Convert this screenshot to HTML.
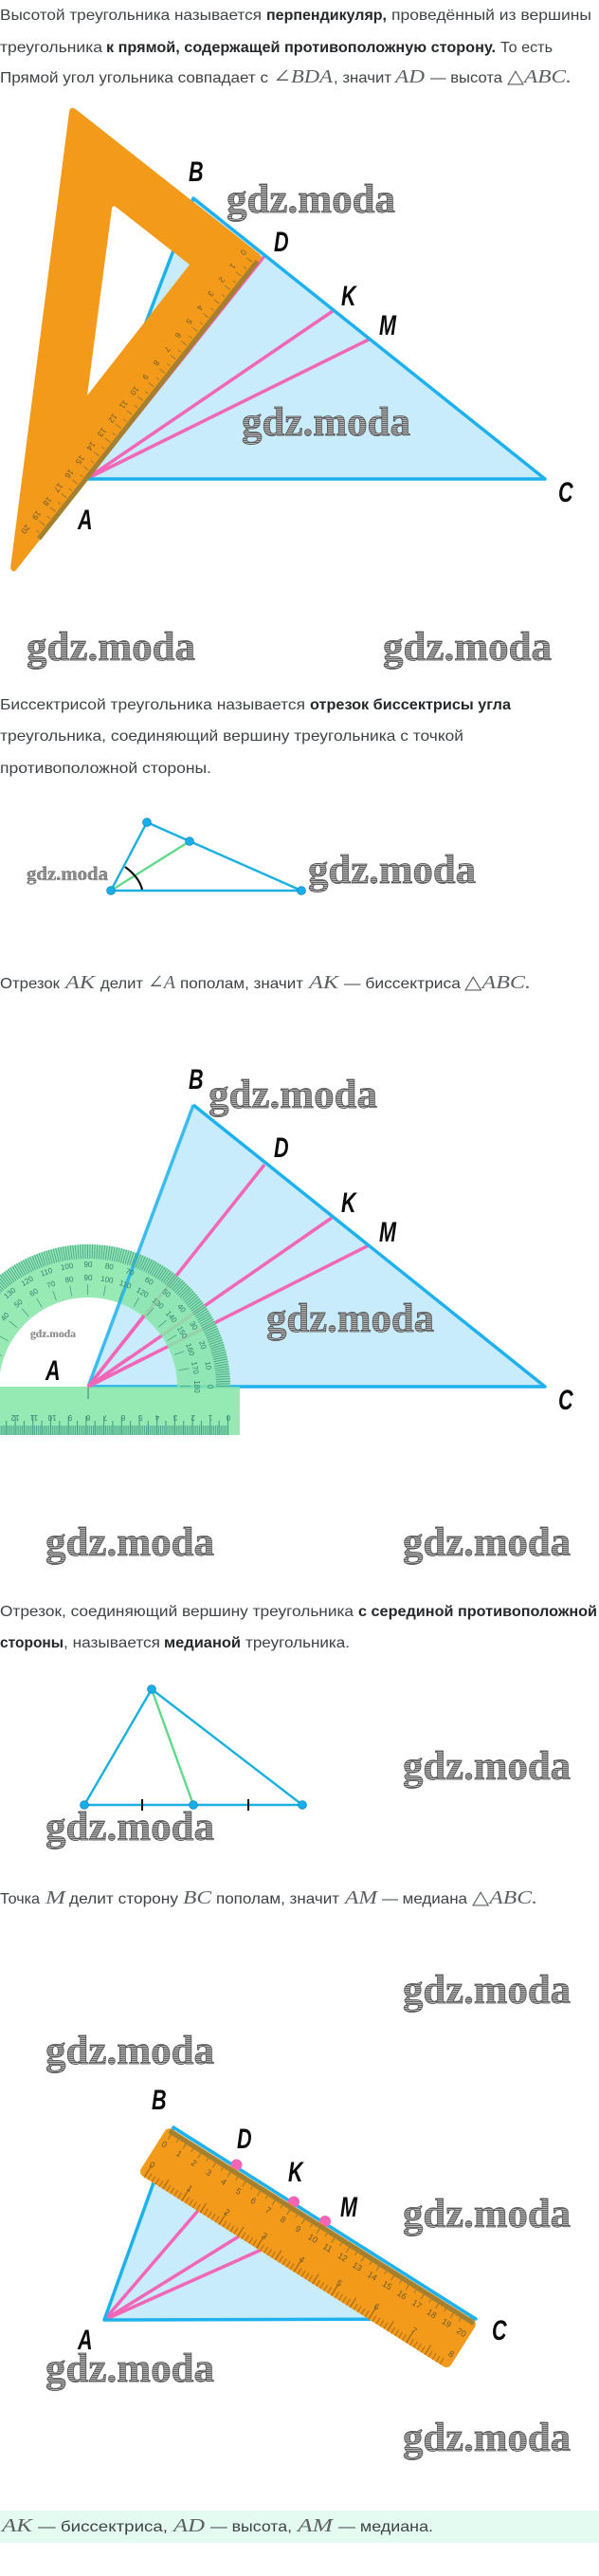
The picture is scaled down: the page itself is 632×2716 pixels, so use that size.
<!DOCTYPE html>
<html><head><meta charset="utf-8"><style>
html,body{margin:0;padding:0;background:#fff;width:632px;height:2716px;overflow:hidden}
svg{display:block}
.t{font:16px "Liberation Sans",sans-serif;fill:#3e4346}
.b{font:bold 16px "Liberation Sans",sans-serif;fill:#25282b}
.m{font:italic 20px "Liberation Serif","DejaVu Serif",serif;fill:#5c6063}
.w{font:bold 43px "Liberation Serif",serif;fill:url(#h);stroke:#4a4a4a;stroke-width:.7}
.l{font:italic bold 30px "Liberation Sans",sans-serif;fill:#0a0a0a}
</style></head><body>
<svg xmlns="http://www.w3.org/2000/svg" width="632" height="2716" viewBox="0 0 632 2716">
<defs><pattern id="h" width="4" height="2" patternUnits="userSpaceOnUse"><rect width="4" height="2" fill="#b4b4b4"/><rect width="4" height="1" fill="#666"/></pattern></defs>
<!-- SECTION 1 text -->
<text class="t" x="0" y="21" textLength="276" lengthAdjust="spacingAndGlyphs">Высотой треугольника называется</text>
<text class="b" x="281" y="21" textLength="127" lengthAdjust="spacingAndGlyphs">перпендикуляр,</text>
<text class="t" x="413" y="21" textLength="211" lengthAdjust="spacingAndGlyphs">проведённый из вершины</text>
<text class="t" x="0" y="55" textLength="108" lengthAdjust="spacingAndGlyphs">треугольника</text>
<text class="b" x="112" y="55" textLength="411" lengthAdjust="spacingAndGlyphs">к прямой, содержащей противоположную сторону.</text>
<text class="t" x="528" y="55" textLength="55" lengthAdjust="spacingAndGlyphs">То есть</text>
<text class="t" x="0" y="87" textLength="283" lengthAdjust="spacingAndGlyphs">Прямой угол угольника совпадает с</text>
<text class="m" x="288" y="87" textLength="63" lengthAdjust="spacingAndGlyphs">∠BDA</text>
<text class="t" x="352" y="87" textLength="61" lengthAdjust="spacingAndGlyphs">, значит</text>
<text class="m" x="417" y="87" textLength="31" lengthAdjust="spacingAndGlyphs">AD</text>
<text class="t" x="454" y="87" textLength="76" lengthAdjust="spacingAndGlyphs">— высота</text>
<text class="m" x="535" y="87" textLength="68" lengthAdjust="spacingAndGlyphs">△ABC.</text>

<!-- SECTION 1 figure -->
<path d="M91 505L204 209L575 505Z" fill="#c9ecfd"/>
<path d="M91 505L279 270M91 505L351 328M91 505L389 358" stroke="#f266b8" stroke-width="3.5" fill="none"/>
<path d="M91 505L204 209L575 505Z" fill="none" stroke="#1fb1ee" stroke-width="3.5" stroke-linejoin="round"/>
<path d="M73 118Q74 111 81 116L274 268L276 272L17 601Q14 605 11 599ZM118 220Q119 216 122 218L200 279L92 417Z" fill="#f39a1b" fill-rule="evenodd"/>
<path d="M271.5 275.5L41 568" stroke="#a5802f" stroke-width="5"/>
<path d="M263.3 273.7L33.3 565.7" stroke="#9c7a2a" stroke-width="7" stroke-dasharray=".9 17.7"/>
<path d="M264.5 274.7L34.5 566.7" stroke="#9c7a2a" stroke-width="4" stroke-dasharray=".9 8.4"/>
<g transform="translate(-2.3 -3.8)" fill="#6b5a2a" style="font:8.5px 'Liberation Sans',sans-serif" text-anchor="middle">
<text transform="translate(257 268) rotate(128)">0</text><text transform="translate(245.5 282.6) rotate(128)">1</text><text transform="translate(234 297.2) rotate(128)">2</text><text transform="translate(222.5 311.8) rotate(128)">3</text><text transform="translate(211 326.4) rotate(128)">4</text><text transform="translate(199.5 341) rotate(128)">5</text><text transform="translate(188 355.6) rotate(128)">6</text><text transform="translate(176.5 370.2) rotate(128)">7</text><text transform="translate(165 384.8) rotate(128)">8</text><text transform="translate(153.5 399.4) rotate(128)">9</text><text transform="translate(142 414) rotate(128)">10</text><text transform="translate(130.5 428.6) rotate(128)">11</text><text transform="translate(119 443.2) rotate(128)">12</text><text transform="translate(107.5 457.8) rotate(128)">13</text><text transform="translate(96 472.4) rotate(128)">14</text><text transform="translate(84.5 487) rotate(128)">15</text><text transform="translate(73 501.6) rotate(128)">16</text><text transform="translate(61.5 516.2) rotate(128)">17</text><text transform="translate(50 530.8) rotate(128)">18</text><text transform="translate(38.5 545.4) rotate(128)">19</text><text transform="translate(27 560) rotate(128)">20</text>
</g>
<text class="l" transform="translate(199 191) scale(.72 1)">B</text>
<text class="l" transform="translate(289 265) scale(.72 1)">D</text>
<text class="l" transform="translate(360 322) scale(.72 1)">K</text>
<text class="l" transform="translate(400 353) scale(.72 1)">M</text>
<text class="l" transform="translate(82 558) scale(.72 1)">A</text>
<text class="l" transform="translate(589 529) scale(.72 1)">C</text>
<text class="w" x="239" y="224" textLength="178" lengthAdjust="spacingAndGlyphs">gdz.moda</text>
<text class="w" x="255" y="459" textLength="178" lengthAdjust="spacingAndGlyphs">gdz.moda</text>
<text class="w" x="28" y="696" textLength="178" lengthAdjust="spacingAndGlyphs">gdz.moda</text>
<text class="w" x="404" y="696" textLength="178" lengthAdjust="spacingAndGlyphs">gdz.moda</text>

<!-- SECTION 2 -->
<text class="t" x="0" y="748" textLength="322" lengthAdjust="spacingAndGlyphs">Биссектрисой треугольника называется</text>
<text class="b" x="327" y="748" textLength="212" lengthAdjust="spacingAndGlyphs">отрезок биссектрисы угла</text>
<text class="t" x="0" y="781" textLength="489" lengthAdjust="spacingAndGlyphs">треугольника, соединяющий вершину треугольника с точкой</text>
<text class="t" x="0" y="815" textLength="223" lengthAdjust="spacingAndGlyphs">противоположной стороны.</text>
<path d="M117 939L155 867L318 939Z" fill="none" stroke="#1ab0e0" stroke-width="2.4" stroke-linejoin="round"/>
<path d="M117 939L200 887" stroke="#5fd98a" stroke-width="2.4"/>
<path d="M132 914Q147 925 150 938" fill="none" stroke="#111" stroke-width="2.2"/>
<g fill="#19aeea" stroke="#1488c0" stroke-width=".8"><circle cx="117" cy="939" r="4.4"/><circle cx="155" cy="867" r="4.4"/><circle cx="200" cy="887" r="4.4"/><circle cx="318" cy="939" r="4.4"/></g>
<text class="w" style="font-size:21px;stroke-width:.3" x="28" y="928" textLength="86" lengthAdjust="spacingAndGlyphs">gdz.moda</text>
<text class="w" x="325" y="931" textLength="177" lengthAdjust="spacingAndGlyphs">gdz.moda</text>
<text class="t" x="0" y="1042" textLength="63" lengthAdjust="spacingAndGlyphs">Отрезок</text>
<text class="m" x="69" y="1042" textLength="31" lengthAdjust="spacingAndGlyphs">AK</text>
<text class="t" x="106" y="1042" textLength="45" lengthAdjust="spacingAndGlyphs">делит</text>
<text class="m" x="156" y="1042" textLength="29" lengthAdjust="spacingAndGlyphs">∠A</text>
<text class="t" x="190" y="1042" textLength="130" lengthAdjust="spacingAndGlyphs">пополам, значит</text>
<text class="m" x="326" y="1042" textLength="31" lengthAdjust="spacingAndGlyphs">AK</text>
<text class="t" x="363" y="1042" textLength="123" lengthAdjust="spacingAndGlyphs">— биссектриса</text>
<text class="m" x="490" y="1042" textLength="70" lengthAdjust="spacingAndGlyphs">△ABC.</text>

<!-- SECTION 3 figure -->
<path d="M93 1462L204 1165L575 1462Z" fill="#c9ecfd"/>
<path d="M93 1462L279 1228M93 1462L350 1284M93 1462L389 1313" stroke="#f266b8" stroke-width="3.5" fill="none"/>
<path d="M204 1165L575 1462L93 1462" fill="none" stroke="#1fb1ee" stroke-width="3.5" stroke-linejoin="round"/>
<path d="M-57 1462A150 150 0 0 1 243 1462L187 1462A94 94 0 0 0 -1 1462Z" fill="#86e6a8" fill-opacity=".85"/>
<rect x="-5" y="1462" width="258" height="51" fill="#86e6a8" fill-opacity=".88"/>
<path d="M93 1462L204 1165" stroke="#1fb1ee" stroke-width="3.5" stroke-opacity=".85"/>
<path d="M93 1462L152 1387M93 1462L137 1431M93 1462L152 1432" stroke="#f266b8" stroke-width="3.5" fill="none" stroke-linecap="butt"/>
<path d="M235.5 1462A142.5 142.5 0 0 0 -49.5 1462" fill="none" stroke="#4aa78d" stroke-width="15" stroke-dasharray="1 1.487"/>
<path d="M195.5 1462A102.5 102.5 0 0 0 -9.5 1462" fill="none" stroke="#4f9a80" stroke-width="11" stroke-dasharray=".8 17.09"/>
<path d="M93 1463V1475" stroke="#3a7a68" stroke-width="1"/>
<g style="font:8px 'Liberation Sans',sans-serif" fill="#2f7f6a" text-anchor="middle">
<text transform="rotate(90 93 1462)" x="93" y="1336">0</text><text transform="rotate(80 93 1462)" x="93" y="1336">10</text><text transform="rotate(70 93 1462)" x="93" y="1336">20</text><text transform="rotate(60 93 1462)" x="93" y="1336">30</text><text transform="rotate(50 93 1462)" x="93" y="1336">40</text><text transform="rotate(40 93 1462)" x="93" y="1336">50</text><text transform="rotate(30 93 1462)" x="93" y="1336">60</text><text transform="rotate(20 93 1462)" x="93" y="1336">70</text><text transform="rotate(10 93 1462)" x="93" y="1336">80</text><text x="93" y="1336">90</text><text transform="rotate(-10 93 1462)" x="93" y="1336">100</text><text transform="rotate(-20 93 1462)" x="93" y="1336">110</text><text transform="rotate(-30 93 1462)" x="93" y="1336">120</text><text transform="rotate(-40 93 1462)" x="93" y="1336">130</text><text transform="rotate(-50 93 1462)" x="93" y="1336">140</text>
<text transform="rotate(90 93 1462)" x="93" y="1350">180</text><text transform="rotate(80 93 1462)" x="93" y="1350">170</text><text transform="rotate(70 93 1462)" x="93" y="1350">160</text><text transform="rotate(60 93 1462)" x="93" y="1350">150</text><text transform="rotate(50 93 1462)" x="93" y="1350">140</text><text transform="rotate(40 93 1462)" x="93" y="1350">130</text><text transform="rotate(30 93 1462)" x="93" y="1350">120</text><text transform="rotate(20 93 1462)" x="93" y="1350">110</text><text transform="rotate(10 93 1462)" x="93" y="1350">100</text><text x="93" y="1350">90</text><text transform="rotate(-10 93 1462)" x="93" y="1350">80</text><text transform="rotate(-20 93 1462)" x="93" y="1350">70</text><text transform="rotate(-30 93 1462)" x="93" y="1350">60</text><text transform="rotate(-40 93 1462)" x="93" y="1350">50</text><text transform="rotate(-50 93 1462)" x="93" y="1350">40</text>
<text transform="rotate(180 241 1489)" x="241" y="1486">0</text><text transform="rotate(180 222 1489)" x="222" y="1486">1</text><text transform="rotate(180 203.6 1489)" x="203.6" y="1486">2</text><text transform="rotate(180 185 1489)" x="185" y="1486">3</text><text transform="rotate(180 166 1489)" x="166" y="1486">4</text><text transform="rotate(180 148 1489)" x="148" y="1486">5</text><text transform="rotate(180 130 1489)" x="130" y="1486">6</text><text transform="rotate(180 111 1489)" x="111" y="1486">7</text><text transform="rotate(180 93 1489)" x="93" y="1486">8</text><text transform="rotate(180 74 1489)" x="74" y="1486">9</text><text transform="rotate(180 55 1489)" x="55" y="1486">10</text><text transform="rotate(180 36 1489)" x="36" y="1486">11</text><text transform="rotate(180 16 1489)" x="16" y="1486">12</text>
</g>
<path d="M241 1508H0" stroke="#4aa78d" stroke-width="10" stroke-dasharray="1 .87"/>
<path d="M241 1503H0" stroke="#3f9a82" stroke-width="20" stroke-dasharray="1 17.7"/>
<path d="M231.6 1505.5H0" stroke="#3f9a82" stroke-width="15" stroke-dasharray="1 17.7"/>
<text class="l" transform="translate(199 1148) scale(.72 1)">B</text>
<text class="l" transform="translate(289 1220) scale(.72 1)">D</text>
<text class="l" transform="translate(360 1278) scale(.72 1)">K</text>
<text class="l" transform="translate(400 1309) scale(.72 1)">M</text>
<text class="l" transform="translate(48 1455) scale(.72 1)">A</text>
<text class="l" transform="translate(589 1486) scale(.72 1)">C</text>
<text class="w" x="220" y="1168" textLength="178" lengthAdjust="spacingAndGlyphs">gdz.moda</text>
<text class="w" x="281" y="1404" textLength="177" lengthAdjust="spacingAndGlyphs">gdz.moda</text>
<text class="w" style="font-size:11.6px;stroke-width:.12" x="32" y="1410" textLength="48" lengthAdjust="spacingAndGlyphs">gdz.moda</text>
<text class="w" x="48" y="1640" textLength="178" lengthAdjust="spacingAndGlyphs">gdz.moda</text>
<text class="w" x="425" y="1640" textLength="177" lengthAdjust="spacingAndGlyphs">gdz.moda</text>

<!-- SECTION 4 -->
<text class="t" x="0" y="1704" textLength="373" lengthAdjust="spacingAndGlyphs">Отрезок, соединяющий вершину треугольника</text>
<text class="b" x="378" y="1704" textLength="252" lengthAdjust="spacingAndGlyphs">с серединой противоположной</text>
<text class="b" x="0" y="1737" textLength="67" lengthAdjust="spacingAndGlyphs">стороны</text>
<text class="t" x="67" y="1737" textLength="102" lengthAdjust="spacingAndGlyphs">, называется</text>
<text class="b" x="173" y="1737" textLength="81" lengthAdjust="spacingAndGlyphs">медианой</text>
<text class="t" x="259" y="1737" textLength="110" lengthAdjust="spacingAndGlyphs">треугольника.</text>
<path d="M160 1781L204 1903" stroke="#5fd98a" stroke-width="2.4"/>
<path d="M89 1903L160 1781L319 1903Z" fill="none" stroke="#1ab0e0" stroke-width="2.4" stroke-linejoin="round"/>
<path d="M150 1897V1909M262 1897V1909" stroke="#111" stroke-width="2"/>
<g fill="#19aeea" stroke="#1488c0" stroke-width=".8"><circle cx="160" cy="1781" r="4.4"/><circle cx="89" cy="1903" r="4.4"/><circle cx="204" cy="1903" r="4.4"/><circle cx="319" cy="1903" r="4.4"/></g>
<text class="w" x="425" y="1876" textLength="177" lengthAdjust="spacingAndGlyphs">gdz.moda</text>
<text class="w" x="48" y="1940" textLength="178" lengthAdjust="spacingAndGlyphs">gdz.moda</text>
<text class="t" x="0" y="2007" textLength="42" lengthAdjust="spacingAndGlyphs">Точка</text>
<text class="m" x="48" y="2007" textLength="21" lengthAdjust="spacingAndGlyphs">M</text>
<text class="t" x="73" y="2007" textLength="115" lengthAdjust="spacingAndGlyphs">делит сторону</text>
<text class="m" x="193" y="2007" textLength="30" lengthAdjust="spacingAndGlyphs">BC</text>
<text class="t" x="228" y="2007" textLength="130" lengthAdjust="spacingAndGlyphs">пополам, значит</text>
<text class="m" x="364" y="2007" textLength="34" lengthAdjust="spacingAndGlyphs">AM</text>
<text class="t" x="403" y="2007" textLength="90" lengthAdjust="spacingAndGlyphs">— медиана</text>
<text class="m" x="498" y="2007" textLength="69" lengthAdjust="spacingAndGlyphs">△ABC.</text>
<text class="w" x="425" y="2112" textLength="177" lengthAdjust="spacingAndGlyphs">gdz.moda</text>
<text class="w" x="48" y="2176" textLength="178" lengthAdjust="spacingAndGlyphs">gdz.moda</text>

<!-- SECTION 5 figure -->
<path d="M110 2446L183 2243L502 2445Z" fill="#c9ecfd"/>
<path d="M110 2446L250 2283M110 2446L310 2322M110 2446L343 2342" stroke="#f266b8" stroke-width="3.5" fill="none"/>
<path d="M110 2446L183 2243L502 2445Z" fill="none" stroke="#1fb1ee" stroke-width="3.5" stroke-linejoin="round"/>
<g fill="#f266b8"><circle cx="249.5" cy="2282.5" r="6"/><circle cx="310" cy="2321.5" r="6"/><circle cx="343" cy="2342" r="6"/></g>
<g transform="translate(177 2242) rotate(32.3)">
<rect x="0" y="0" width="387" height="58.5" rx="6" fill="#f39a1b"/>
<rect x="4" y=".5" width="380" height="5" fill="#a5802f"/>
<path d="M7 8.5H378" stroke="#9c7a2a" stroke-width="6" stroke-dasharray="1 17.55"/>
<path d="M7 7.5H378" stroke="#9c7a2a" stroke-width="4" stroke-dasharray="1 8.275"/>
<path d="M7 54.75H380" stroke="#b5741a" stroke-width="7.5" stroke-dasharray="1.2 3.47"/>
<path d="M7 51H380" stroke="#a86c14" stroke-width="15" stroke-dasharray="1.2 45.5"/>
<path d="M7 52.5H380" stroke="#a86c14" stroke-width="12" stroke-dasharray="1.2 22.15"/>
<g style="font:9px 'Liberation Sans',sans-serif" fill="#6b5a2a" text-anchor="middle">
<text x="7" y="21">0</text><text x="25.5" y="21">1</text><text x="44" y="21">2</text><text x="62.6" y="21">3</text><text x="81.2" y="21">4</text><text x="99.7" y="21">5</text><text x="118.3" y="21">6</text><text x="136.8" y="21">7</text><text x="155.4" y="21">8</text><text x="174" y="21">9</text><text x="192.5" y="21">10</text><text x="211" y="21">11</text><text x="229.6" y="21">12</text><text x="248" y="21">13</text><text x="266.7" y="21">14</text><text x="285.2" y="21">15</text><text x="303.8" y="21">16</text><text x="322.3" y="21">17</text><text x="341" y="21">18</text><text x="359.4" y="21">19</text><text x="378" y="21">20</text>
<text x="7.8" y="46">0</text><text x="54.5" y="46">1</text><text x="101.2" y="46">2</text><text x="148" y="46">3</text><text x="194.6" y="46">4</text><text x="241.3" y="46">5</text><text x="288" y="46">6</text><text x="334.7" y="46">7</text><text x="381" y="46">8</text>
</g>
</g>
<text class="l" transform="translate(160 2224) scale(.72 1)">B</text>
<text class="l" transform="translate(250 2265) scale(.72 1)">D</text>
<text class="l" transform="translate(304 2300) scale(.72 1)">K</text>
<text class="l" transform="translate(359 2337) scale(.72 1)">M</text>
<text class="l" transform="translate(82 2477) scale(.72 1)">A</text>
<text class="l" transform="translate(519 2467) scale(.72 1)">C</text>
<text class="w" x="425" y="2348" textLength="177" lengthAdjust="spacingAndGlyphs">gdz.moda</text>
<text class="w" x="48" y="2511" textLength="178" lengthAdjust="spacingAndGlyphs">gdz.moda</text>
<text class="w" x="425" y="2584" textLength="177" lengthAdjust="spacingAndGlyphs">gdz.moda</text>

<!-- Summary -->
<rect x="0" y="2647" width="632" height="34" fill="#e3fbf0"/>
<text class="m" x="2" y="2669" textLength="32" lengthAdjust="spacingAndGlyphs">AK</text>
<text class="t" x="40" y="2669" textLength="137" lengthAdjust="spacingAndGlyphs">— биссектриса,</text>
<text class="m" x="183" y="2669" textLength="33" lengthAdjust="spacingAndGlyphs">AD</text>
<text class="t" x="222" y="2669" textLength="86" lengthAdjust="spacingAndGlyphs">— высота,</text>
<text class="m" x="314" y="2669" textLength="37" lengthAdjust="spacingAndGlyphs">AM</text>
<text class="t" x="357" y="2669" textLength="100" lengthAdjust="spacingAndGlyphs">— медиана.</text>
</svg>
</body></html>
